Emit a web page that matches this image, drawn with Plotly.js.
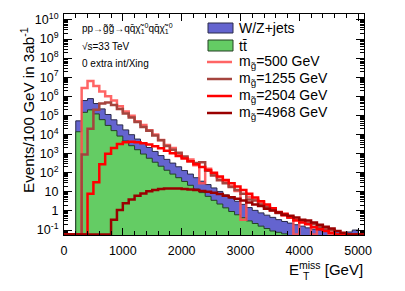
<!DOCTYPE html>
<html>
<head>
<meta charset="utf-8">
<script src="https://cdn.plot.ly/plotly-3.0.1.min.js"></script>
<style>html,body{margin:0;padding:0;background:#fff;}#chart{width:405px;height:291px;}</style>
</head>
<body>
<div id="chart"></div>
<script>
// bin edges in GeV (100 GeV bins)
const binEdges = [0,100,200,300,400,500,600,700,800,900,1000,1100,1200,1300,1400,1500,1600,1700,1800,1900,2000,2100,2200,2300,2400,2500,2600,2700,2800,2900,3000,3100,3200,3300,3400,3500,3600,3700,3800,3900,4000,4100,4200,4300,4400,4500,4600,4700,4800,4900,5000,5100];

// ttbar (green, front of stack)
const ttbar = [0,0,1.4e4,1.45e5,1.95e5,1.2e5,6.0e4,3.0e4,1.6e4,8.3e3,4.6e3,2.6e3,1.6e3,950,575,355,220,135,85,55,35,22,14,9.1,5.8,3.6,2.3,1.45,0.93,0.63,0.44,0.30,0.22,0.16,0.12,0.089,0.076,0.063,0,0,0,0,0,0,0,0,0,0,0,0,0];

// W/Z+jets stacked on top of ttbar (top of the stack)
const wzjetsStacked = [0,0,5.2e4,6.0e5,7.6e5,4.2e5,2.2e5,1.12e5,5.9e4,3.2e4,1.75e4,9.8e3,5.8e3,3.5e3,2.1e3,1.3e3,790,500,320,205,130,85,55,36,24,16,10.5,6.9,4.6,3.2,2.2,1.5,1.07,0.79,0.6,0.46,0.35,0.28,0.23,0.19,0.16,0.13,0.11,0.1,0.089,0.076,0.083,0.071,0.079,0.1,0];

// signal samples
const m500 = [0,0,0,2.7e6,6.3e6,3.5e6,1.8e6,1.0e6,6.0e5,3.0e5,1.6e5,9.5e4,5.0e4,3.2e4,1.7e4,1.0e4,5.2e3,2.8e3,2.0e3,1.0e3,630,500,250,28,160,80,56,32,20,11,0.35,5.6,4.0,2.8,1.8,1.1,0.8,0.56,0.5,0,0.32,0.25,0,0.18,0.11,0,0,0,0,0,0];
const m1255 = [0,0,0,890,2.0e4,2.0e5,4.2e5,4.8e5,3.5e5,2.2e5,1.26e5,7.9e4,4.5e4,2.5e4,1.6e4,8.9e3,5.0e3,2.5e3,1.6e3,1.1e3,710,400,320,355,126,71,40,28,18,12.6,7.9,4.0,3.5,2.2,1.6,1.26,0.79,0.63,0.45,0.35,0.28,0.22,0.2,0.14,0.11,0.1,0,0,0,0,0];
const m2504 = [0,0,0,0,7.9,32,280,1.0e3,2.0e3,3.2e3,4.0e3,4.2e3,4.0e3,3.5e3,3.0e3,2.4e3,1.9e3,1.4e3,1.05e3,760,560,400,280,200,140,100,63,42,28,19,12.6,7.9,5.0,3.2,2.2,1.4,0.89,0.71,0.45,0.32,0.25,0.2,0.14,0.11,0.089,0.071,0,0,0,0,0];
const m4968 = [0,0,0,0,0,0,0,0,0.35,1.12,2.5,4.0,6.3,8.3,10.7,12.6,14,15,15,14.8,14,13.2,12.3,11.2,10,8.9,7.6,6.3,5.2,4.4,3.5,2.8,2.2,1.8,1.3,1.05,0.83,0.63,0.56,0.45,0.35,0.32,0.25,0.19,0.15,0.12,0.089,0.071,0,0,0];

const seriesNames = ["W/Z+jets","tt\u0304","m<sub>g\u0303</sub>=500 GeV","m<sub>g\u0303</sub>=1255 GeV","m<sub>g\u0303</sub>=2504 GeV","m<sub>g\u0303</sub>=4968 GeV"];
const yTickVals = [0.1,1,10,100,1e3,1e4,1e5,1e6,1e7,1e8,1e9,1e10];
const yTickText = ["10<sup>-1</sup>","1","10","10<sup>2</sup>","10<sup>3</sup>","10<sup>4</sup>","10<sup>5</sup>","10<sup>6</sup>","10<sup>7</sup>","10<sup>8</sup>","10<sup>9</sup>","10<sup>10</sup>"];

const yLogMin = -1.26, yLogMax = 10.31;
const lineFloor = Math.pow(10, yLogMin + 0.03);
const fillFloor = 1e-4;

function step(vals, floor) {
  const ys = vals.map(v => v > 0 ? v : floor);
  ys.push(ys[ys.length - 1]);
  return {x: binEdges.slice(), y: ys};
}

const FONT = "Liberation Sans, Arial, Helvetica, sans-serif";
const colWZ = "#6464cf", colTT = "#64cc64";
const colors = ["rgba(255,80,80,0.88)", "#a5443e", "#ff0000", "#9a0000"];

const traces = [];
let s = step(wzjetsStacked, fillFloor);
traces.push({x: s.x, y: s.y, type: "scatter", mode: "lines", line: {shape: "hv", color: "#2a2a4a", width: 1}, fill: "tozeroy", fillcolor: colWZ, hoverinfo: "skip", showlegend: false});
s = step(ttbar, fillFloor);
traces.push({x: s.x, y: s.y, type: "scatter", mode: "lines", line: {shape: "hv", color: "#244024", width: 1}, fill: "tozeroy", fillcolor: colTT, hoverinfo: "skip", showlegend: false});
[m500, m1255, m2504, m4968].forEach((arr, i) => {
  const st = step(arr, lineFloor);
  traces.push({x: st.x, y: st.y, type: "scatter", mode: "lines", line: {shape: "hv", color: colors[i], width: 2.5}, hoverinfo: "skip", showlegend: false});
});

// helpers to place legend pieces in paper coordinates
const L = 64, R = 364, T = 14, B = 235;
const px = v => (v - L) / (R - L);
const py = v => (B - v) / (B - T);

const shapes = [
  {type: "rect", xref: "paper", yref: "paper", x0: px(208), x1: px(233), y0: py(33), y1: py(23), fillcolor: colWZ, line: {color: "#2a2a4a", width: 1}},
  {type: "rect", xref: "paper", yref: "paper", x0: px(208), x1: px(233), y0: py(51), y1: py(40), fillcolor: colTT, line: {color: "#244024", width: 1}}
];
const legY = [62, 79, 96, 113];
legY.forEach((yy, i) => shapes.push({type: "line", xref: "paper", yref: "paper", x0: px(207), x1: px(232), y0: py(yy), y1: py(yy), line: {color: colors[i], width: 2.5}}));

const annotations = [];
const legTextY = [28, 45.5, 62, 79, 96, 113];
seriesNames.forEach((t, i) => annotations.push({xref: "paper", yref: "paper", x: px(237), y: py(legTextY[i]), xanchor: "left", yanchor: "middle", text: t, showarrow: false, font: {family: FONT, size: 14, color: "#000"}}));
annotations.push({xref: "paper", yref: "paper", x: px(80), y: py(28), xanchor: "left", yanchor: "middle", showarrow: false, text: "pp\u2192g\u0303g\u0303\u2192qq\u0304\u03c7\u0303<sub>1</sub><sup>0</sup>qq\u0304\u03c7\u0303<sub>1</sub><sup>0</sup>", font: {family: FONT, size: 10, color: "#000"}});
annotations.push({xref: "paper", yref: "paper", x: px(80), y: py(46), xanchor: "left", yanchor: "middle", showarrow: false, text: "\u221as=33 TeV", font: {family: FONT, size: 10, color: "#000"}});
annotations.push({xref: "paper", yref: "paper", x: px(80), y: py(63), xanchor: "left", yanchor: "middle", showarrow: false, text: "0 extra int/Xing", font: {family: FONT, size: 10, color: "#000"}});
// axis titles
annotations.push({xref: "paper", yref: "paper", x: px(27), y: py(110), xanchor: "center", yanchor: "middle", textangle: -90, showarrow: false, text: "Events/100 GeV in 3ab<sup>-1</sup>", font: {family: FONT, size: 15.2, color: "#000"}});
annotations.push({xref: "paper", yref: "paper", x: px(365), y: py(268), xanchor: "right", yanchor: "middle", showarrow: false, text: "E<sup>miss</sup> [GeV]", font: {family: FONT, size: 15, color: "#000"}});
annotations.push({xref: "paper", yref: "paper", x: px(301), y: py(276), xanchor: "left", yanchor: "middle", showarrow: false, text: "T", font: {family: FONT, size: 10.5, color: "#000"}});

const layout = {
  width: 405, height: 291,
  margin: {l: L, r: 405 - R, t: T, b: 291 - B, pad: 0},
  paper_bgcolor: "#fff", plot_bgcolor: "#fff",
  showlegend: false,
  font: {family: FONT, size: 12, color: "#000"},
  xaxis: {
    range: [0, 5100], dtick: 1000, tick0: 0, ticks: "inside", ticklen: 7, tickcolor: "#000", tickwidth: 1,
    showline: true, linecolor: "#000", linewidth: 1, mirror: "allticks", showgrid: false, zeroline: false,
    tickfont: {family: FONT, size: 12.5}, ticklabelstandoff: 4,
    minor: {dtick: 200, ticks: "inside", ticklen: 4, tickcolor: "#000", showgrid: false}
  },
  yaxis: {
    type: "log", range: [yLogMin, yLogMax], tickmode: "array", tickvals: yTickVals, ticktext: yTickText,
    ticks: "inside", ticklen: 8, tickcolor: "#000", tickwidth: 1,
    showline: true, linecolor: "#000", linewidth: 1, mirror: "allticks", showgrid: false, zeroline: false,
    tickfont: {family: FONT, size: 12.5}, ticklabelstandoff: 2,
    minor: {dtick: "D1", ticks: "inside", ticklen: 4, tickcolor: "#000", showgrid: false}
  },
  shapes: shapes,
  annotations: annotations
};

Plotly.newPlot("chart", traces, layout, {staticPlot: true, displayModeBar: false});
</script>
</body>
</html>
